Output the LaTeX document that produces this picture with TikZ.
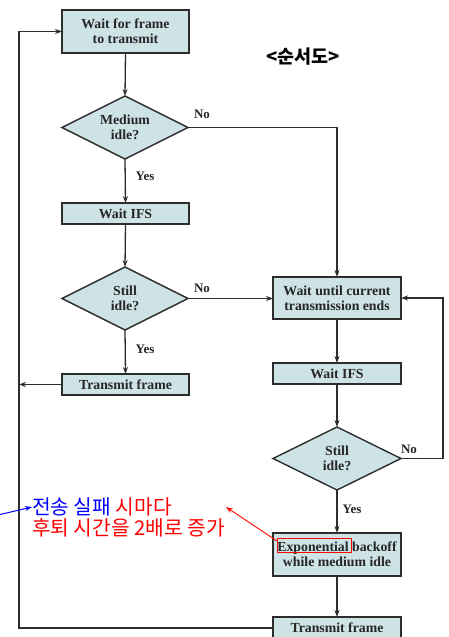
\documentclass[tikz,border=0pt]{standalone}
\usepackage{fontspec}
\setmainfont{Liberation Serif}
\newfontfamily\cjk{Noto Sans CJK KR}
\usetikzlibrary{shapes.geometric,arrows.meta}
\definecolor{boxfill}{RGB}{205,227,230}
\definecolor{linec}{RGB}{45,45,45}
\begin{document}
\begin{tikzpicture}[x=1pt,y=-1pt,
  every node/.style={inner sep=0pt,outer sep=0pt},
  flowbox/.style={draw=linec,line width=1.6pt,fill=boxfill,align=center,
    font=\fontsize{13.8}{15}\selectfont\bfseries,text=black!85},
  decide/.style={diamond,aspect=2,draw=linec,line width=1.4pt,fill=boxfill,align=center,
    font=\fontsize{13.8}{15}\selectfont\bfseries,text=black!85},
  lbl/.style={font=\fontsize{13}{14}\selectfont\bfseries,text=black!85},
  flow/.style={draw=linec,line width=1.3pt,-{Stealth[length=7pt,width=5pt]}},
  kor/.style={font=\cjk\fontsize{20.3}{22}\selectfont,anchor=west}
]
\useasboundingbox (0,0) rectangle (448,637);
\clip (0,0) rectangle (448,637);
\fill[white] (0,0) rectangle (448,637);

% left column
\node[flowbox,minimum width=127pt,minimum height=43pt] (b1) at (125.5,31.5) {Wait for frame\\to transmit};
\node[decide,minimum width=126pt,minimum height=63pt] (d1) at (125,127.5) {Medium\\idle?};
\node[flowbox,minimum width=127pt,minimum height=21pt] (b2) at (125.5,213.5) {Wait IFS};
\node[decide,minimum width=126pt,minimum height=63pt] (d2) at (125,298.5) {Still\\idle?};
\node[flowbox,minimum width=127pt,minimum height=21pt] (b4) at (125.5,384.5) {Transmit frame};

% right column
\node[flowbox,minimum width=128pt,minimum height=42pt] (b3) at (337,298) {Wait until current\\transmission ends};
\node[flowbox,minimum width=128pt,minimum height=21pt] (b5) at (337,373.5) {Wait IFS};
\node[decide,minimum width=128pt,minimum height=63pt] (d3) at (337,458.5) {Still\\idle?};
\node[flowbox,line width=2.6pt,minimum width=128pt,minimum height=43pt] (b6) at (337,554.5) {Exponential backoff\\while medium idle};
\node[flowbox,minimum width=128pt,minimum height=22pt] (b7) at (337,628) {Transmit frame};

% title
\node[font=\cjk\fontsize{18.5}{20}\selectfont\bfseries] (title) at (303,57) {<순서도>};

% labels
\node[lbl] (no1) at (202,114) {No};
\node[lbl] (yes1) at (145,176) {Yes};
\node[lbl] (no2) at (202,288) {No};
\node[lbl] (yes2) at (145,349) {Yes};
\node[lbl] (no3) at (409,449) {No};
\node[lbl] (yes3) at (352,509) {Yes};

% connectors
\draw[flow] (b1.south) -- (d1.north);
\draw[flow] (d1.south) -- (b2.north);
\draw[flow] (b2.south) -- (d2.north);
\draw[flow] (d2.south) -- (b4.north);
\draw[flow] (d1.east) -| (b3.north);
\draw[flow] (d2.east) -- (d2.east -| b3.west);
\draw[flow] (b3.south) -- (b5.north);
\draw[flow] (b5.south) -- (d3.north);
\draw[flow] (d3.south) -- (b6.north);
\draw[flow] (b6.south) -- (b7.north);
\coordinate (rloop) at (443,458.5);
\draw[flow] (d3.east) -- (rloop) |- (b3.east);
\coordinate (lbot) at (19,628);
\coordinate (ltop) at (19,31.5);
\coordinate (lmid) at (19,384.5);
\draw[flow] (b7.west) -- (lbot) -- (ltop) -- (b1.west);
\draw[flow] (b4.west) -- (lmid);

% annotation
\node[kor] (k1) at (32,507) {\textcolor{blue}{전송 실패} \textcolor{red}{시마다}};
\node[kor] (k2) at (32,528) {\textcolor{red}{후퇴 시간을 2배로 증가}};
\coordinate (bstart) at (-2,515);
\draw[blue,line width=1pt,-{Stealth[length=7pt,width=5pt]}] (bstart) -- (k1.west);
\coordinate (rbox1) at (277,538);
\coordinate (rbox2) at (351,552);
\draw[red,line width=0.9pt] (rbox1) rectangle (rbox2);
\coordinate (rtip) at (226,507);
\draw[red,line width=0.9pt,-{Stealth[length=7pt,width=5pt]}] (277,541) -- (rtip);
\end{tikzpicture}
\end{document}
